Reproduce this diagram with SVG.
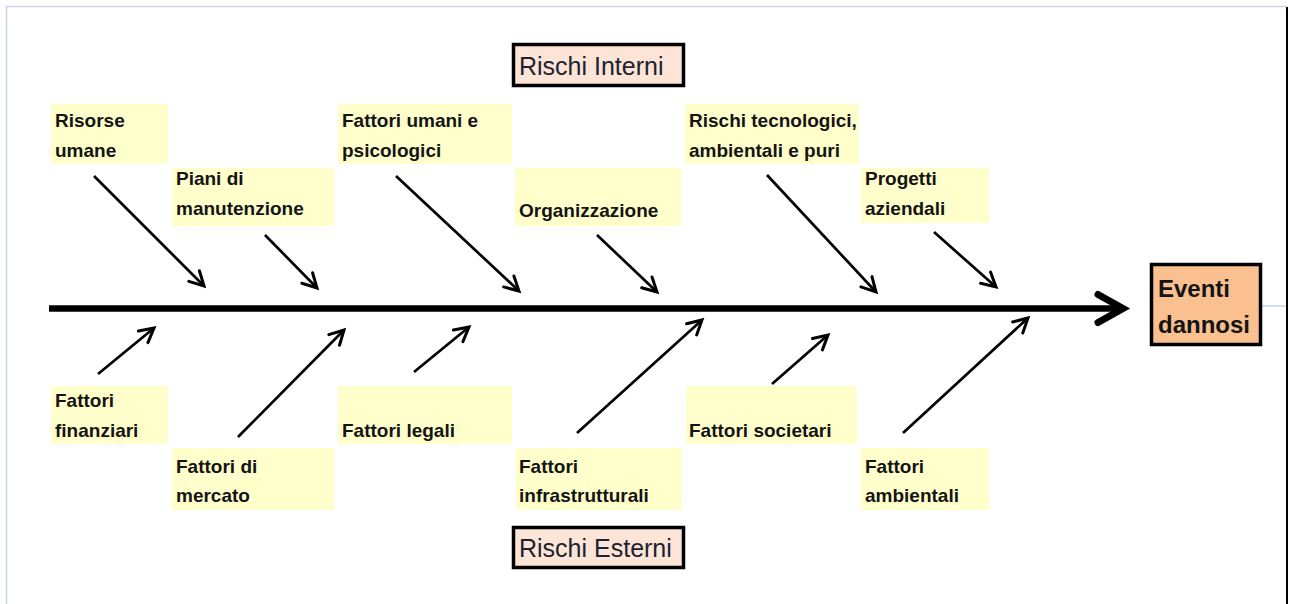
<svg xmlns="http://www.w3.org/2000/svg" width="1289" height="604" viewBox="0 0 1289 604">
<style>
.lbl{fill:#FFFFCC;}
.t{font-family:"Liberation Sans",Arial,sans-serif;font-weight:bold;font-size:19px;fill:#141414;}
.hdr{fill:#FCE4D6;stroke:#000;stroke-width:3.5;}
.ht{font-family:"Liberation Sans",Arial,sans-serif;font-size:25px;fill:#1c2230;}
.br{stroke:#000;stroke-width:2.7;fill:none;marker-end:url(#ah);}
.et{font-family:"Liberation Sans",Arial,sans-serif;font-weight:bold;font-size:24px;fill:#141414;}
</style>
<defs>
<marker id="ah" markerUnits="userSpaceOnUse" markerWidth="30" markerHeight="30" viewBox="-15 -15 30 30" refX="0" refY="0" orient="auto" overflow="visible">
<path d="M-14,-7.5 L0,0 L-14,7.5" fill="none" stroke="#000" stroke-width="3" stroke-linejoin="miter" stroke-linecap="round"/>
</marker>
</defs>
<rect x="0" y="0" width="1289" height="604" fill="#fff"/>
<g id="frame">
<line x1="6" y1="6.5" x2="1287" y2="6.5" stroke="#C9D5EA" stroke-width="1.5"/>
<line x1="6.5" y1="6" x2="6.5" y2="604" stroke="#C9D5EA" stroke-width="1.5"/>
<line x1="1287" y1="7" x2="1287" y2="604" stroke="#000" stroke-width="2"/>
<line x1="1262" y1="306" x2="1286" y2="306" stroke="#C9D5EA" stroke-width="1.5"/>
</g>
<g id="connectors">
<line x1="49" y1="308.5" x2="1120" y2="308.5" stroke="#000" stroke-width="6.5"/>
<path d="M1098,294.5 L1123,308.5 L1098,322.5" fill="none" stroke="#000" stroke-width="7" stroke-linejoin="miter" stroke-linecap="round"/>
<line class="br" x1="94" y1="176" x2="204" y2="286"/>
<line class="br" x1="265" y1="235" x2="317" y2="288"/>
<line class="br" x1="396" y1="176" x2="519" y2="291"/>
<line class="br" x1="597" y1="235" x2="657" y2="292"/>
<line class="br" x1="767" y1="175" x2="876" y2="292"/>
<line class="br" x1="934" y1="232" x2="996" y2="287"/>
<line class="br" x1="98" y1="374" x2="154" y2="328"/>
<line class="br" x1="238" y1="437" x2="344" y2="330"/>
<line class="br" x1="414" y1="372" x2="469" y2="327"/>
<line class="br" x1="577" y1="433" x2="702" y2="320"/>
<line class="br" x1="772" y1="384" x2="828" y2="335"/>
<line class="br" x1="903" y1="433" x2="1028" y2="318"/>
</g>
<g id="rischi-interni">
<rect class="hdr" x="513.5" y="44.5" width="170" height="41"/>
<text class="ht" x="519" y="75">Rischi Interni</text>
</g>
<g id="rischi-esterni">
<rect class="hdr" x="513.5" y="527.5" width="170" height="40"/>
<text class="ht" x="519" y="557">Rischi Esterni</text>
</g>
<g id="eventi-dannosi">
<rect x="1151.5" y="264.5" width="109" height="80" fill="#FAC090" stroke="#000" stroke-width="3.5"/>
<text class="et" x="1158" y="297">Eventi</text>
<text class="et" x="1158" y="333">dannosi</text>
</g>
<g id="risorse-umane">
<rect class="lbl" x="51" y="104" width="117" height="60"/>
<text class="t" x="55" y="127">Risorse</text>
<text class="t" x="55" y="157">umane</text>
</g>
<g id="piani-manutenzione">
<rect class="lbl" x="172" y="168" width="162" height="58"/>
<text class="t" x="176" y="185">Piani di</text>
<text class="t" x="176" y="215">manutenzione</text>
</g>
<g id="fattori-umani">
<rect class="lbl" x="338" y="104" width="174" height="60"/>
<text class="t" x="342" y="127">Fattori umani e</text>
<text class="t" x="342" y="157">psicologici</text>
</g>
<g id="organizzazione">
<rect class="lbl" x="515" y="168" width="166" height="58"/>
<text class="t" x="519" y="217">Organizzazione</text>
</g>
<g id="rischi-tecnologici">
<rect class="lbl" x="685" y="104" width="174" height="60"/>
<text class="t" x="689" y="127">Rischi tecnologici,</text>
<text class="t" x="689" y="157">ambientali e puri</text>
</g>
<g id="progetti-aziendali">
<rect class="lbl" x="861" y="168" width="128" height="55"/>
<text class="t" x="865" y="185">Progetti</text>
<text class="t" x="865" y="215">aziendali</text>
</g>
<g id="fattori-finanziari">
<rect class="lbl" x="51" y="386" width="117" height="58"/>
<text class="t" x="55" y="407">Fattori</text>
<text class="t" x="55" y="437">finanziari</text>
</g>
<g id="fattori-mercato">
<rect class="lbl" x="172" y="448" width="162" height="62"/>
<text class="t" x="176" y="473">Fattori di</text>
<text class="t" x="176" y="502">mercato</text>
</g>
<g id="fattori-legali">
<rect class="lbl" x="338" y="386" width="174" height="58"/>
<text class="t" x="342" y="437">Fattori legali</text>
</g>
<g id="fattori-infrastrutturali">
<rect class="lbl" x="516" y="448" width="166" height="62"/>
<text class="t" x="519" y="473">Fattori</text>
<text class="t" x="519" y="502">infrastrutturali</text>
</g>
<g id="fattori-societari">
<rect class="lbl" x="686" y="386" width="171" height="58"/>
<text class="t" x="689" y="437">Fattori societari</text>
</g>
<g id="fattori-ambientali">
<rect class="lbl" x="861" y="448" width="128" height="62"/>
<text class="t" x="865" y="473">Fattori</text>
<text class="t" x="865" y="502">ambientali</text>
</g>
</svg>
